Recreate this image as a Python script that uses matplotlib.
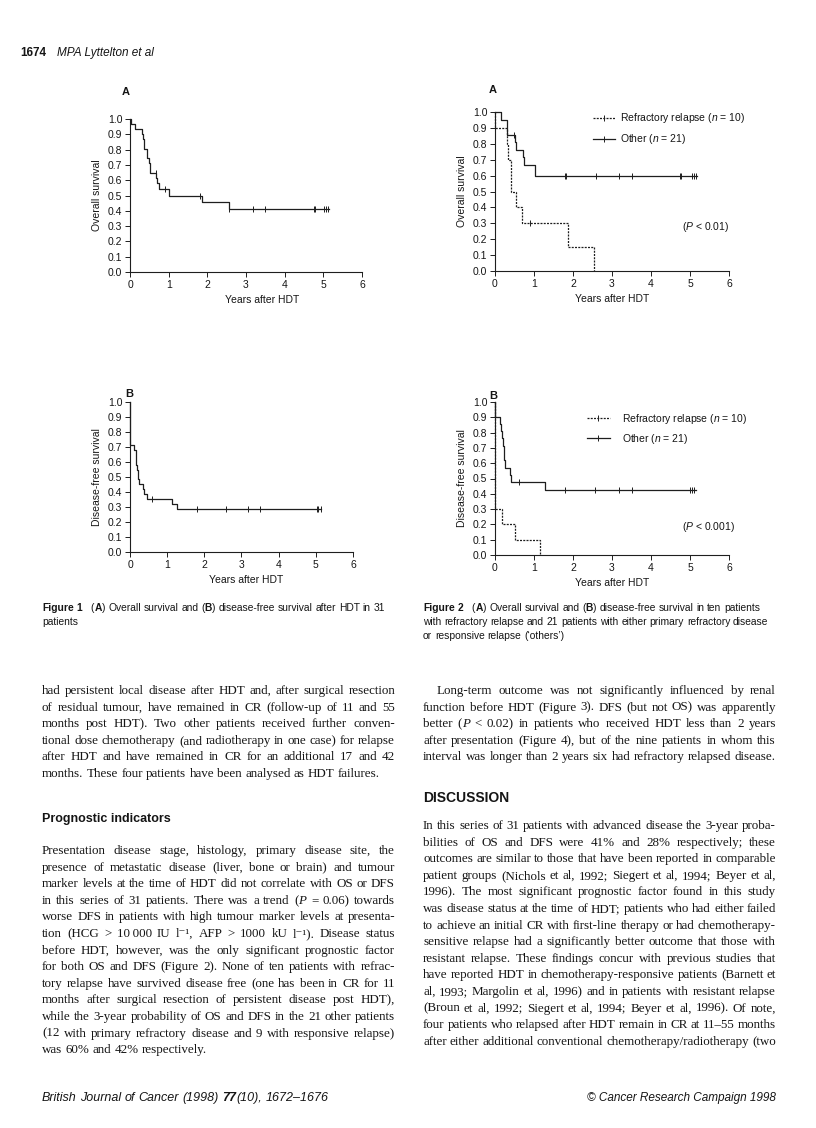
import matplotlib
matplotlib.use('Agg')
import matplotlib.pyplot as plt
from matplotlib.lines import Line2D
import numpy as np

W, H = 816, 1128
TXT = '#151515'
LC = '#1e1e1e'
plt.rcParams['font.family'] = ['Liberation Sans', 'DejaVu Sans']
plt.rcParams['mathtext.fontset'] = 'custom'
plt.rcParams['mathtext.it'] = 'Liberation Sans:italic'
plt.rcParams['mathtext.rm'] = 'Liberation Sans'
plt.rcParams['mathtext.bf'] = 'Liberation Sans:bold'

# ---------------- data ----------------
year_ticks = [0, 1, 2, 3, 4, 5, 6]
surv_ticks = [0.0, 0.1, 0.2, 0.3, 0.4, 0.5, 0.6, 0.7, 0.8, 0.9, 1.0]

# Figure 1A: overall survival, all 31 patients
os_all_t = [0, 0.03, 0.13, 0.30, 0.33, 0.37, 0.43, 0.50, 0.53, 0.68, 0.71, 0.74, 1.02, 1.86, 2.55]
os_all_s = [1.0, 0.968, 0.935, 0.903, 0.871, 0.806, 0.742, 0.710, 0.645, 0.613, 0.581, 0.545, 0.50, 0.455, 0.41]
os_all_cens = [0.67, 0.90, 1.80, 2.57, 3.17, 3.50, 4.75, 4.78, 5.03, 5.08, 5.12]
os_all_end = 5.15

# Figure 1B: disease-free survival, all 31 patients
dfs_all_t = [0, 0, 0.10, 0.15, 0.17, 0.19, 0.21, 0.23, 0.34, 0.39, 0.45, 1.14, 1.26]
dfs_all_s = [1.0, 0.71, 0.677, 0.645, 0.581, 0.548, 0.484, 0.452, 0.419, 0.387, 0.355, 0.319, 0.284]
dfs_all_cens = [0.60, 1.79, 2.57, 3.17, 3.50, 5.02, 5.06, 5.15]
dfs_all_end = 5.15

# Figure 2A: overall survival by group
os_ref_t = [0, 0.01, 0.30, 0.33, 0.40, 0.53, 0.70, 1.87, 2.54]
os_ref_s = [1.0, 0.9, 0.8, 0.7, 0.5, 0.4, 0.3, 0.15, 0.0]
os_ref_cens = [0.89]
os_ref_end = 2.54

os_oth_t = [0, 0.15, 0.30, 0.32, 0.51, 0.55, 0.71, 0.74, 1.03]
os_oth_s = [1.0, 0.952, 0.905, 0.857, 0.810, 0.762, 0.714, 0.667, 0.60]
os_oth_cens = [0.48, 1.79, 1.83, 2.60, 3.19, 3.50, 4.75, 4.78, 5.04, 5.09, 5.15]
os_oth_end = 5.17

# Figure 2B: disease-free survival by group
dfs_ref_t = [0, 0, 0.17, 0.52, 1.16]
dfs_ref_s = [1.0, 0.3, 0.2, 0.1, 0.0]
dfs_ref_cens = []
dfs_ref_end = 1.16

dfs_oth_t = [0, 0, 0.13, 0.16, 0.18, 0.21, 0.23, 0.24, 0.25, 0.38, 0.42, 1.27]
dfs_oth_s = [1.0, 0.905, 0.857, 0.810, 0.762, 0.714, 0.667, 0.619, 0.571, 0.524, 0.476, 0.423]
dfs_oth_cens = [0.62, 1.79, 2.57, 3.17, 3.50, 5.00, 5.05, 5.10]
dfs_oth_end = 5.15

legend_labels = [r'Refractory relapse ($n$ = 10)', r'Other ($n$ = 21)']

# ---------------- figure ----------------
fig = plt.figure(figsize=(W / 100, H / 100), dpi=100)
fig.patch.set_facecolor('white')
CF = 7.5   # chart font size

def ax_px(x0, x1, ytop, ybot):
    return fig.add_axes([x0 / W, 1 - ybot / H, (x1 - x0) / W, (ybot - ytop) / H])

def setup(ax, ylabel, xlab_x=0.5):
    ax.set_xlim(0, 6)
    ax.set_ylim(0, 1)
    for s in ['top', 'right']:
        ax.spines[s].set_visible(False)
    for s in ['left', 'bottom']:
        ax.spines[s].set_linewidth(0.8)
        ax.spines[s].set_color(LC)
    ax.set_xticks(year_ticks)
    ax.set_xticklabels([str(v) for v in year_ticks])
    ax.set_yticks(surv_ticks)
    ax.set_yticklabels([f'{v:.1f}' for v in surv_ticks])
    ax.tick_params(direction='out', length=3.5, width=0.7, labelsize=CF, pad=2,
                   color=LC, labelcolor=TXT)
    ax.set_xlabel('Years after HDT', fontsize=CF, labelpad=4, color=TXT, x=xlab_x)
    ax.set_ylabel(ylabel, fontsize=CF, labelpad=4, color=TXT)
    ax.patch.set_alpha(0)

DASH = (0, (1.6, 1.0))

def km(ax, t, s, cens, end, dashed=False):
    t = np.asarray(t, float)
    s = np.asarray(s, float)
    xs = np.append(t, end)
    ys = np.append(s, s[-1])
    ls = DASH if dashed else '-'
    ax.step(xs, ys, where='post', color=LC, lw=0.9, linestyle=ls, clip_on=False)
    if len(cens):
        idx = np.searchsorted(t, np.asarray(cens), side='right') - 1
        ax.plot(cens, s[idx], linestyle='none', marker='|', ms=4, mew=0.7,
                color=LC, clip_on=False)

def legend(ax, anchor, hl, tp, ls):
    hs = [Line2D([], [], color=LC, lw=0.9, linestyle=DASH, marker='|', ms=4, mew=0.7),
          Line2D([], [], color=LC, lw=0.9, linestyle='-', marker='|', ms=4, mew=0.7)]
    ax.legend(hs, legend_labels, loc='upper left', bbox_to_anchor=anchor, frameon=False,
              fontsize=CF, numpoints=1, handlelength=hl, handletextpad=tp,
              labelspacing=ls, borderaxespad=0, labelcolor=TXT)

# Figure 1A
a1 = ax_px(130, 362, 119, 272)
setup(a1, 'Overall survival', xlab_x=0.57)
km(a1, os_all_t, os_all_s, os_all_cens, os_all_end)

# Figure 1B
a2 = ax_px(130, 353, 402, 552)
setup(a2, 'Disease-free survival', xlab_x=0.52)
km(a2, dfs_all_t, dfs_all_s, dfs_all_cens, dfs_all_end)

# Figure 2A
a3 = ax_px(495, 729, 112, 271)
setup(a3, 'Overall survival')
km(a3, os_ref_t, os_ref_s, os_ref_cens, os_ref_end, dashed=True)
km(a3, os_oth_t, os_oth_s, os_oth_cens, os_oth_end)
legend(a3, (0.40, 1.03), 2.1, 0.5, 0.65)
a3.text(1.0, 0.277, r'($P$ < 0.01)', transform=a3.transAxes, ha='right', va='center',
        fontsize=CF, color=TXT)

# Figure 2B
a4 = ax_px(495, 729, 402, 555)
setup(a4, 'Disease-free survival')
km(a4, dfs_ref_t, dfs_ref_s, dfs_ref_cens, dfs_ref_end, dashed=True)
km(a4, dfs_oth_t, dfs_oth_s, dfs_oth_cens, dfs_oth_end)
legend(a4, (0.375, 0.965), 2.2, 1.2, 0.6)
a4.text(1.025, 0.18, r'($P$ < 0.001)', transform=a4.transAxes, ha='right', va='center',
        fontsize=CF, color=TXT)

for (x, y, l) in [(122, 92, 'A'), (489, 90, 'A'), (125, 394, 'B'), (489, 396, 'B')]:
    fig.text(x / W, 1 - y / H, l, fontsize=8, weight='bold', ha='left', va='center', color=TXT)

# ---------------- text layout ----------------
renderer = fig.canvas.get_renderer()
state = {'it': False, 'bf': False}
SERIF = ['Liberation Serif', 'DejaVu Serif']
SANS = ['Liberation Sans', 'DejaVu Sans']

def draw_line(line, x0, x1, y, size, family, justify, indent=0, color=TXT):
    words = line.split(' ')
    items = []
    it, bf = state['it'], state['bf']
    for w in words:
        arts = []
        cur = ''
        for ch in w:
            if ch in '_*':
                if cur:
                    arts.append((cur, it, bf))
                cur = ''
                if ch == '_':
                    it = not it
                else:
                    bf = not bf
            else:
                cur += ch
        if cur:
            arts.append((cur, it, bf))
        texts = []
        wsum = 0
        for (s, i_, b_) in arts:
            t = fig.text(0, 1 - y / H, s, fontsize=size, family=family,
                         style='italic' if i_ else 'normal',
                         weight='bold' if b_ else 'normal',
                         ha='left', va='baseline', color=color)
            wpx = t.get_window_extent(renderer).width
            texts.append((t, wpx))
            wsum += wpx
        items.append((texts, wsum))
    state['it'], state['bf'] = it, bf
    em = 0.25 if family is SERIF else 0.278
    space = em * size * 100 / 72
    total = sum(w for _, w in items)
    n = len(items)
    if justify and n > 1:
        gap = max((x1 - x0 - indent - total) / (n - 1), 0.6 * space)
    else:
        gap = space
    x = x0 + indent
    for texts, wsum in items:
        for t, wpx in texts:
            t.set_x(x / W)
            x += wpx
        x += gap

def paragraph(lines, x0, x1, y0, dy, size, family, indent=0, justify_last=False, justify=True):
    for k, ln in enumerate(lines):
        last = (k == len(lines) - 1)
        j = justify and ((not last) or justify_last)
        draw_line(ln, x0, x1, y0 + k * dy, size, family,
                  justify=j, indent=indent if k == 0 else 0)

# header
fig.text(20 / W, 1 - 56 / H, '1674', fontsize=8.5, weight='bold', family=SANS,
         ha='left', va='baseline', color=TXT)
fig.text(57 / W, 1 - 56 / H, 'MPA Lyttelton et al', fontsize=8.5, style='italic', family=SANS,
         ha='left', va='baseline', color=TXT)

# captions
CS = 7.4
paragraph(['*Figure 1*   (*A*) Overall survival and (*B*) disease-free survival after HDT in 31',
           'patients'], 42, 400, 611, 14, CS, SANS, justify=False)
paragraph(['*Figure 2*   (*A*) Overall survival and (*B*) disease-free survival in ten patients',
           'with refractory relapse and 21 patients with either primary refractory disease',
           'or responsive relapse (\u2018others\u2019)'], 423, 800, 611, 14, CS, SANS, justify=False)

left_p1 = [
    'had persistent local disease after HDT and, after surgical resection',
    'of residual tumour, have remained in CR (follow-up of 11 and 55',
    'months post HDT). Two other patients received further conven-',
    'tional dose chemotherapy (and radiotherapy in one case) for relapse',
    'after HDT and have remained in CR for an additional 17 and 42',
    'months. These four patients have been analysed as HDT failures.',
]
left_p2 = [
    'Presentation disease stage, histology, primary disease site, the',
    'presence of metastatic disease (liver, bone or brain) and tumour',
    'marker levels at the time of HDT did not correlate with OS or DFS',
    'in this series of 31 patients. There was a trend (_P_ = 0.06) towards',
    'worse DFS in patients with high tumour marker levels at presenta-',
    'tion (HCG > 10\u2009000 IU l\u207b\u00b9, AFP > 1000 kU l\u207b\u00b9). Disease status',
    'before HDT, however, was the only significant prognostic factor',
    'for both OS and DFS (Figure 2). None of ten patients with refrac-',
    'tory relapse have survived disease free (one has been in CR for 11',
    'months after surgical resection of persistent disease post HDT),',
    'while the 3-year probability of OS and DFS in the 21 other patients',
    '(12 with primary refractory disease and 9 with responsive relapse)',
    'was 60% and 42% respectively.',
]
right_p1 = [
    'Long-term outcome was not significantly influenced by renal',
    'function before HDT (Figure 3). DFS (but not OS) was apparently',
    'better (_P_ < 0.02) in patients who received HDT less than 2 years',
    'after presentation (Figure 4), but of the nine patients in whom this',
    'interval was longer than 2 years six had refractory relapsed disease.',
]
right_p2 = [
    'In this series of 31 patients with advanced disease the 3-year proba-',
    'bilities of OS and DFS were 41% and 28% respectively; these',
    'outcomes are similar to those that have been reported in comparable',
    'patient groups (Nichols et al, 1992; Siegert et al, 1994; Beyer et al,',
    '1996). The most significant prognostic factor found in this study',
    'was disease status at the time of HDT; patients who had either failed',
    'to achieve an initial CR with first-line therapy or had chemotherapy-',
    'sensitive relapse had a significantly better outcome that those with',
    'resistant relapse. These findings concur with previous studies that',
    'have reported HDT in chemotherapy-responsive patients (Barnett et',
    'al, 1993; Margolin et al, 1996) and in patients with resistant relapse',
    '(Broun et al, 1992; Siegert et al, 1994; Beyer et al, 1996). Of note,',
    'four patients who relapsed after HDT remain in CR at 11\u201355 months',
    'after either additional conventional chemotherapy/radiotherapy (two',
]

DY = 16.6
BS = 9.4
paragraph(left_p1, 42, 395, 694, DY, BS, SERIF)
fig.text(42 / W, 1 - 822 / H, 'Prognostic indicators', fontsize=9, weight='bold',
         family=SANS, ha='left', va='baseline', color=TXT)
paragraph(left_p2, 42, 395, 854, DY, BS, SERIF)

paragraph(right_p1, 423, 776, 694, DY, BS, SERIF, indent=14, justify_last=True)
fig.text(423 / W, 1 - 802 / H, 'DISCUSSION', fontsize=10, weight='bold',
         family=SANS, ha='left', va='baseline', color=TXT)
paragraph(right_p2, 423, 776, 829, DY, BS, SERIF, justify_last=True)

# footer
draw_line('_British Journal of Cancer (1998) *77*(10), 1672\u20131676_', 42, 400, 1101, 9, SANS, False)
fig.text(776 / W, 1 - 1101 / H, '\u00a9 Cancer Research Campaign 1998', fontsize=8.5,
         style='italic', family=SANS, ha='right', va='baseline', color=TXT)

fig.savefig('out.png', dpi=100, facecolor='white')
